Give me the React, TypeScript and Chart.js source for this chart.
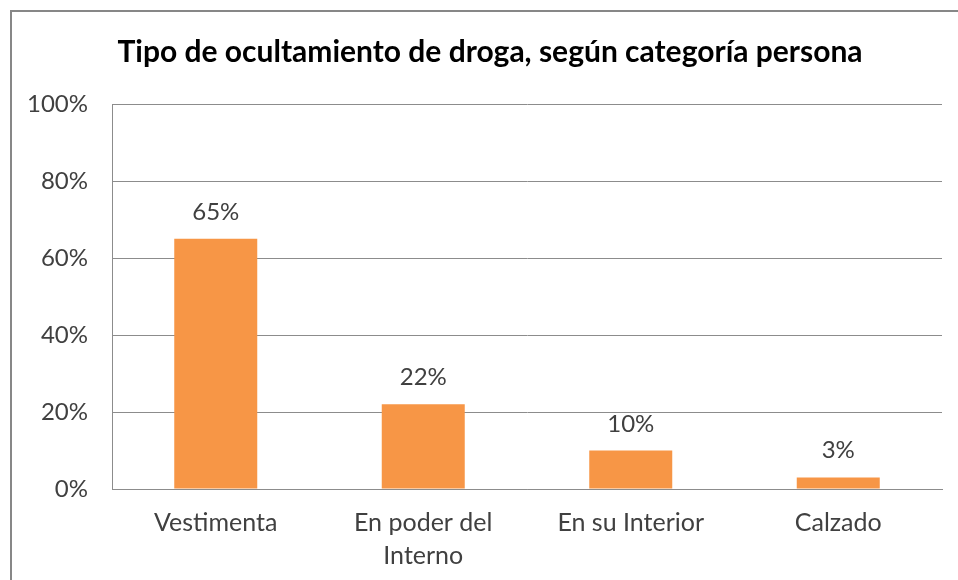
import React, { useEffect, useRef } from "react";
import { Chart, registerables } from "chart.js";

Chart.register(...registerables);

const chartTitle = "Tipo de ocultamiento de droga, según categoría persona";
const categories: (string | string[])[] = ["Vestimenta", ["En poder del", "Interno"], "En su Interior", "Calzado"];
const values = [65, 22, 10, 3];
const valueLabels = ["65%", "22%", "10%", "3%"];
const yMin = 0;
const yMax = 100;
const yStep = 20;

const FONT = "Lato, 'Open Sans', sans-serif";
const TEXT = "#404040";
const GRID = "#8c8c8c";
const BAR = "#F79646";

const valueLabelPlugin = {
  id: "valueLabels",
  afterLayout(chart: any) {
    // centre the title over the (wider, cropped) original chart frame
    if (chart.titleBlock) {
      chart.titleBlock.left = 38;
      chart.titleBlock.right = 942;
      chart.titleBlock.width = 904;
    }
  },
  afterDatasetsDraw(chart: any) {
    const ctx = chart.ctx;
    const meta = chart.getDatasetMeta(0);
    ctx.save();
    ctx.font = `24px ${FONT}`;
    ctx.fillStyle = TEXT;
    ctx.textAlign = "center";
    ctx.textBaseline = "alphabetic";
    meta.data.forEach((bar: any, i: number) => {
      ctx.fillText(valueLabels[i], bar.x, bar.y - 19);
    });
    ctx.restore();
  },
};

export default function App() {
  const ref = useRef<HTMLCanvasElement | null>(null);
  useEffect(() => {
    if (!ref.current) return;
    const chart = new Chart(ref.current, {
      type: "bar",
      data: {
        labels: categories,
        datasets: [
          {
            data: values,
            backgroundColor: BAR,
            borderWidth: 0,
            barPercentage: 0.4,
            categoryPercentage: 1,
          },
        ],
      },
      options: {
        responsive: false,
        animation: false,
        layout: { padding: { left: 0, right: 16, top: 0, bottom: 0 } },
        plugins: {
          legend: { display: false },
          tooltip: { enabled: false },
          title: {
            display: true,
            text: chartTitle,
            color: "#000",
            font: { family: FONT, size: 30, weight: "bold" },
            padding: { top: 34, bottom: 34 },
          },
        },
        scales: {
          x: {
            grid: { display: false, drawTicks: false },
            border: { display: true, color: GRID, width: 1 },
            ticks: {
              color: TEXT,
              font: { family: FONT, size: 25, lineHeight: 1.3 },
              padding: 18,
              maxRotation: 0,
              autoSkip: false,
            },
            afterFit: (s: any) => {
              s.height = 91;
            },
          },
          y: {
            min: yMin,
            max: yMax,
            ticks: {
              stepSize: yStep,
              color: TEXT,
              font: { family: FONT, size: 24 },
              padding: 24,
              callback: (v: any) => `${v}%`,
            },
            grid: { color: GRID, drawTicks: false, lineWidth: 1 },
            border: { display: true, color: GRID, width: 1 },
            afterFit: (s: any) => {
              s.width = 112;
            },
          },
        },
      },
      plugins: [valueLabelPlugin],
    });
    return () => chart.destroy();
  }, []);

  return (
    <>
      <div
        style={{
          position: "fixed",
          left: 0,
          top: 0,
          width: 958,
          height: 580,
          background: "#fff",
        }}
      >
        <canvas ref={ref} width={958} height={580} style={{ display: "block" }} />
      </div>
      <div
        style={{
          position: "fixed",
          left: 10,
          top: 10,
          width: 960,
          height: 580,
          borderLeft: "2px solid #878787",
          borderTop: "2px solid #878787",
          pointerEvents: "none",
        }}
      />
    </>
  );
}
